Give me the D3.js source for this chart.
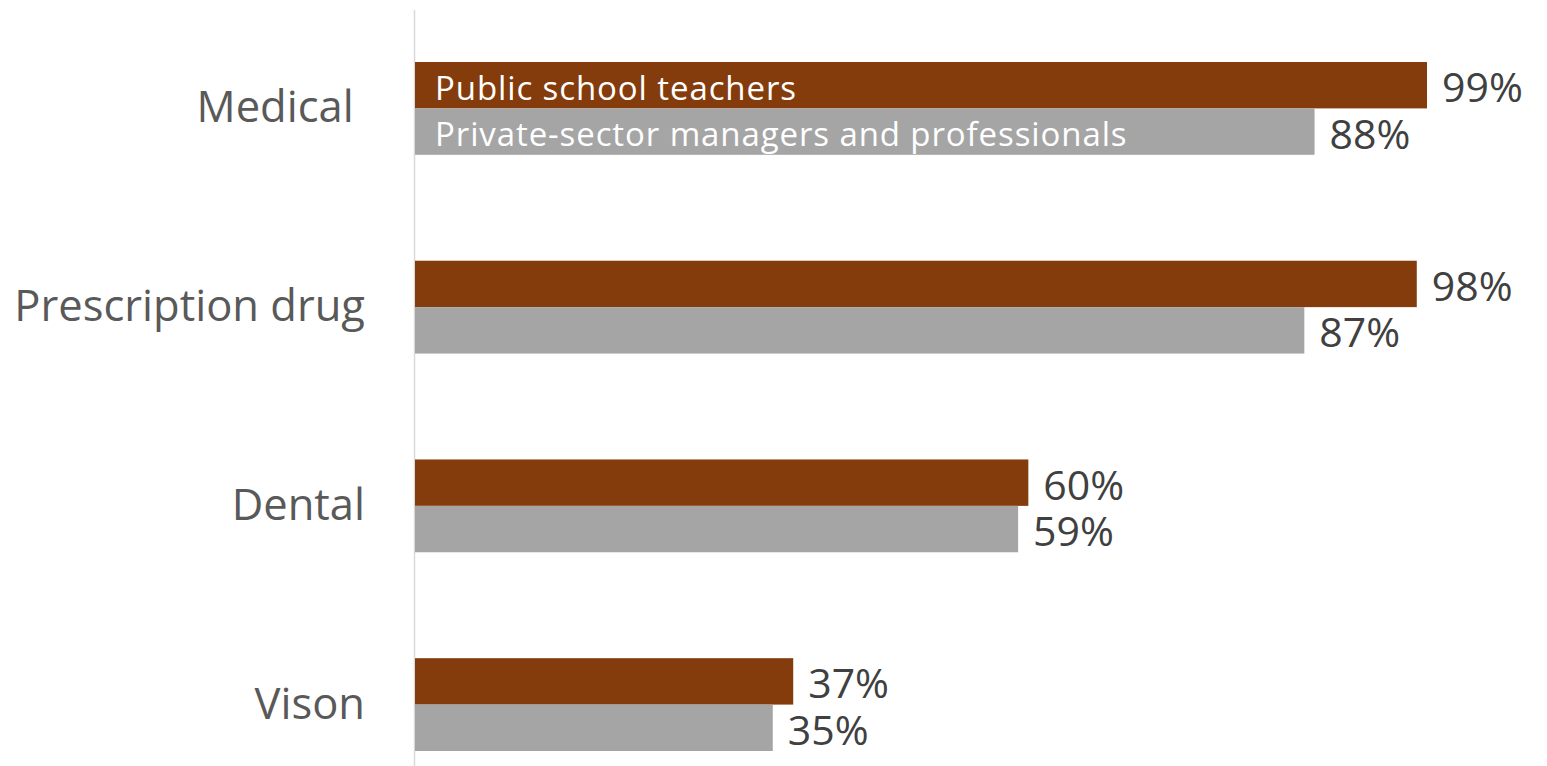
<!DOCTYPE html>
<html>
<head>
<meta charset="utf-8">
<script src="https://cdn.jsdelivr.net/npm/d3@7"></script>
<style>
  html, body { margin: 0; padding: 0; background: #fff; }
  svg { display: block; }
</style>
</head>
<body>
<svg id="chart" width="1547" height="766"></svg>
<script>
// Share of workers with access to each type of health benefit
const categories = ["Medical\u00a0", "Prescription drug", "Dental", "Vison"];
const seriesNames = ["Public school teachers", "Private-sector managers and professionals"];
const teachers = [99, 98, 60, 37];
const privateSector = [88, 87, 59, 35];
const seriesColors = ["#843C0C", "#A5A5A5"];

const svg = d3.select("#chart");
const W = 1547, H = 766;
const x0 = 415;

const x = d3.scaleLinear().domain([0, 99]).range([x0, 1427]);
const y = d3.scaleBand().domain(categories).range([62, 751]).paddingInner(0.533).paddingOuter(0);
const sub = d3.scaleBand().domain([0, 1]).range([0, y.bandwidth()]).padding(0);

const font = "'Open Sans', 'DejaVu Sans', sans-serif";

// vertical axis line
svg.append("line")
  .attr("x1", x0 - 0.5).attr("x2", x0 - 0.5)
  .attr("y1", 10).attr("y2", H)
  .attr("stroke", "#D9D9D9").attr("stroke-width", 1.5);

// category labels
svg.append("g").selectAll("text")
  .data(categories)
  .join("text")
  .attr("x", 365)
  .attr("y", d => y(d) + y.bandwidth() / 2 + 14)
  .attr("text-anchor", "end")
  .attr("font-family", font)
  .attr("font-size", 43.5)
  .attr("fill", "#595959")
  .text(d => d);

const rows = categories.map((c, i) => [
  { cat: c, s: 0, v: teachers[i] },
  { cat: c, s: 1, v: privateSector[i] }
]).flat();

// bars
svg.append("g").selectAll("rect")
  .data(rows)
  .join("rect")
  .attr("x", x(0))
  .attr("y", d => y(d.cat) + sub(d.s))
  .attr("width", d => x(d.v) - x(0))
  .attr("height", sub.bandwidth())
  .attr("fill", d => seriesColors[d.s]);

// value labels
svg.append("g").selectAll("text")
  .data(rows)
  .join("text")
  .attr("x", d => x(d.v) + 15)
  .attr("y", d => y(d.cat) + sub(d.s) + sub.bandwidth() / 2 + 17)
  .attr("font-family", font)
  .attr("font-size", 41)
  .attr("fill", "#404040")
  .text(d => d.v + "%");

// series names written inside the first pair of bars
svg.append("g").selectAll("text")
  .data(seriesNames)
  .join("text")
  .attr("x", x0 + 20)
  .attr("y", (d, i) => y(categories[0]) + sub(i) + sub.bandwidth() / 2 + 14.5)
  .attr("font-family", font)
  .attr("font-size", 33)
  .attr("letter-spacing", 0.9)
  .attr("fill", "#FFFFFF")
  .text(d => d);
</script>
</body>
</html>
